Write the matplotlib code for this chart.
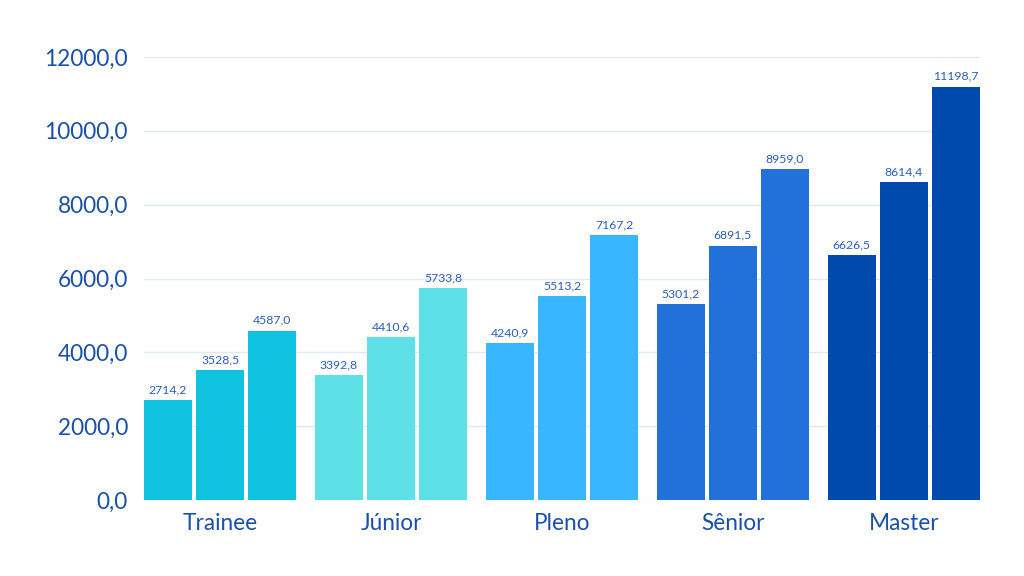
import matplotlib
matplotlib.use("Agg")
import matplotlib.pyplot as plt
import numpy as np

categories = ["Trainee", "Júnior", "Pleno", "Sênior", "Master"]
series1 = [2714.2, 3392.8, 4240.9, 5301.2, 6626.5]
series2 = [3528.5, 4410.6, 5513.2, 6891.5, 8614.4]
series3 = [4587.0, 5733.8, 7167.2, 8959.0, 11198.7]
colors = ["#0FC2E0", "#5DE1E6", "#38B6FF", "#2270D9", "#004AAD"]
yticks = [0, 2000, 4000, 6000, 8000, 10000, 12000]

plt.rcParams['font.family'] = ['Lato', 'DejaVu Sans']

fig = plt.figure(figsize=(10.24, 5.76), dpi=100)
ax = fig.add_axes([144/1024, 1-500/576, (980-144)/1024, (500-57)/576])

x = np.arange(len(categories))
step = 0.305
width = 0.2815
for k, vals in enumerate([series1, series2, series3]):
    pos = x + (k - 1) * step
    bars = ax.bar(pos, vals, width=width, color=colors, edgecolor="none", zorder=3)
    for b, v in zip(bars, vals):
        ax.text(b.get_x() + b.get_width()/2, v + 130, f"{v:.1f}".replace(".", ","),
                ha="center", va="bottom", fontsize=8.8, color="#2A5DB5", zorder=4)

ax.set_xlim(-0.4457, 4.4457)
ax.set_ylim(0, 12000)
ax.set_yticks(yticks)
ax.set_yticklabels([f"{t},0" for t in yticks])
ax.set_xticks(x)
ax.set_xticklabels(categories)
ax.tick_params(axis="both", length=0, labelsize=16.3, colors="#1A50A8")
ax.tick_params(axis="y", pad=11.5)
ax.tick_params(axis="x", pad=9.5)
ax.grid(axis="y", color="#DCE8F4", linewidth=1, zorder=0)
ax.set_axisbelow(True)
for s in ax.spines.values():
    s.set_visible(False)

fig.savefig("out.png", dpi=100)
